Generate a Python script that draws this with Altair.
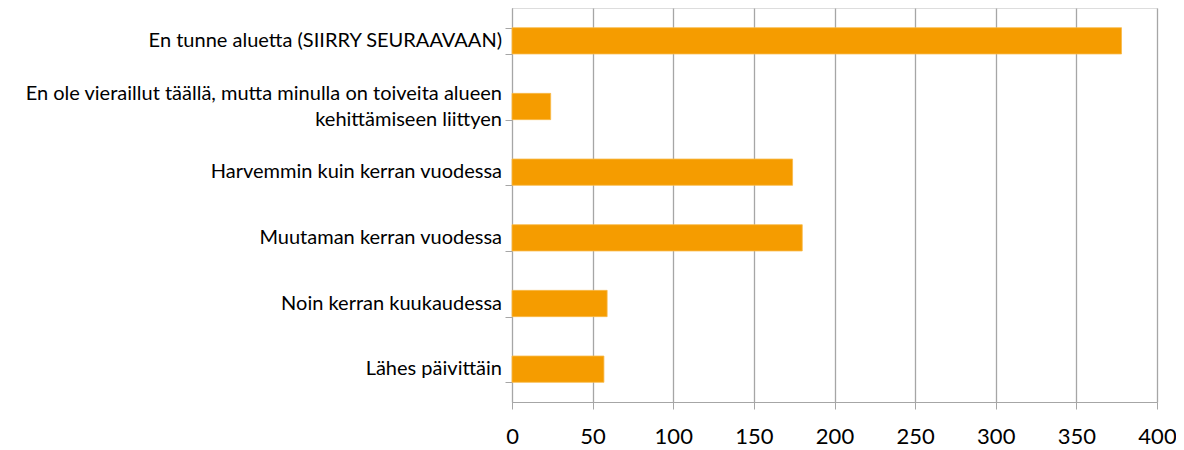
import altair as alt
import pandas as pd

categories = [
    "En tunne aluetta (SIIRRY SEURAAVAAN)",
    "En ole vieraillut täällä, mutta minulla on toiveita alueen|kehittämiseen liittyen",
    "Harvemmin kuin kerran vuodessa",
    "Muutaman kerran vuodessa",
    "Noin kerran kuukaudessa",
    "Lähes päivittäin",
]
values = [378, 24, 174, 180, 59, 57]
x_ticks = [0, 50, 100, 150, 200, 250, 300, 350, 400]

df = pd.DataFrame({"category": categories, "value": values})

GRAY = "#A6A6A6"
FONT = "Lato"

y_enc = alt.Y(
    "category:N",
    sort=categories,
    title=None,
    scale=alt.Scale(paddingInner=0.6, paddingOuter=0.3),
    axis=alt.Axis(
        tickBand="extent",
        tickSize=7,
        tickColor=GRAY,
        domainColor=GRAY,
        grid=False,
        labels=False,
    ),
)

bars = alt.Chart(df).mark_bar(
    color="#F59C00", stroke="#F9BA4A", strokeWidth=0.8
).encode(
    y=y_enc,
    x=alt.X(
        "value:Q",
        title=None,
        scale=alt.Scale(domain=[0, 400], nice=False),
        axis=alt.Axis(
            values=x_ticks,
            grid=True,
            gridColor=GRAY,
            gridWidth=1.3,
            tickSize=7,
            tickColor=GRAY,
            domainColor=GRAY,
            labelFont=FONT,
            labelFontSize=22,
            labelColor="#000000",
            labelPadding=17,
            labelFlush=False,
        ),
    ),
)

single_labels = alt.Chart(df).transform_filter(
    "indexof(datum.category, '|') < 0"
).mark_text(
    align="right", baseline="middle", font=FONT, fontSize=20, color="#000000"
).encode(
    y=alt.Y("category:N", sort=categories),
    x=alt.value(-10),
    text="category:N",
)

multi_labels = alt.Chart(df).transform_filter(
    "indexof(datum.category, '|') >= 0"
).mark_text(
    align="right", baseline="middle", font=FONT, fontSize=20, color="#000000",
    lineBreak="|", lineHeight=26, dy=-13,
).encode(
    y=alt.Y("category:N", sort=categories),
    x=alt.value(-10),
    text="category:N",
)

chart = alt.layer(bars, single_labels, multi_labels).properties(
    width=645,
    height=394,
    autosize=alt.AutoSizeParams(type="none"),
    padding={"left": 504, "top": 0, "right": 19, "bottom": 48},
).configure_view(stroke=None).configure(background="white")

chart.save("out.html", embed_options={"renderer": "svg", "actions": False})
